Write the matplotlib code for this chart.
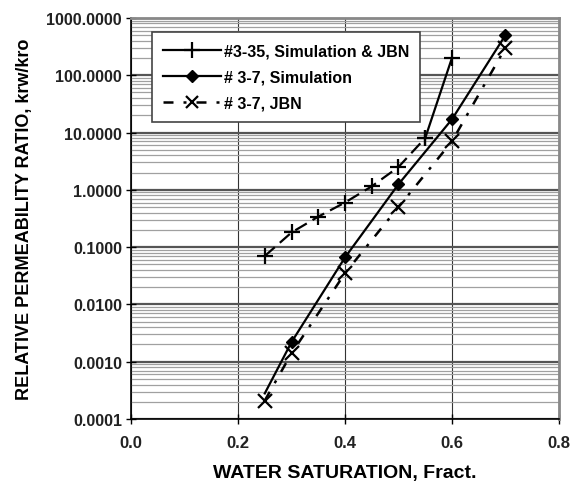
import matplotlib
matplotlib.use("Agg")
import matplotlib.pyplot as plt
from matplotlib.lines import Line2D
from matplotlib.ticker import FixedLocator, LogLocator, FormatStrFormatter

plt.rcParams['font.family'] = ['Liberation Sans', 'DejaVu Sans']

# Data
sw_335 = [0.25, 0.30, 0.35, 0.40, 0.45, 0.50, 0.55, 0.60]
kr_335 = [0.07, 0.18, 0.34, 0.60, 1.15, 2.5, 8.0, 200.0]

sw_37_sim = [0.25, 0.30, 0.40, 0.50, 0.60, 0.70]
kr_37_sim = [0.00028, 0.0022, 0.066, 1.25, 17.0, 500.0]

sw_37_jbn = [0.25, 0.30, 0.40, 0.50, 0.60, 0.70]
kr_37_jbn = [0.00021, 0.0014, 0.035, 0.5, 7.0, 300.0]

x_ticks = [0.0, 0.2, 0.4, 0.6, 0.8]
y_ticks = [0.0001, 0.001, 0.01, 0.1, 1, 10, 100, 1000]

labels = ['#3-35, Simulation & JBN', '# 3-7, Simulation', '# 3-7, JBN']

fig = plt.figure(figsize=(5.75, 4.85), dpi=100)
ax = fig.add_axes([0.228, 0.134, 0.744, 0.827])
ax.set_yscale('log')
ax.set_xlim(0, 0.8)
ax.set_ylim(0.0001, 1000)

# grid: gray minor horizontal lines, darker decade lines, vertical lines at 0.2
ax.yaxis.set_minor_locator(LogLocator(base=10, subs=range(2, 10)))
ax.grid(True, which='minor', axis='y', color='#a0a0a0', linewidth=0.9)
ax.grid(True, which='major', axis='y', color='#555555', linewidth=1.6)
ax.grid(True, which='major', axis='x', color='#333333', linewidth=0.8)
ax.set_axisbelow(True)

# #3-35: dashed through 0.55, solid to the last point
ax.plot(sw_335[:7], kr_335[:7], color='black', linewidth=1.6,
        dashes=(6, 3), marker='+', markersize=11, markeredgewidth=1.6)
ax.plot(sw_335[6:], kr_335[6:], color='black', linewidth=1.6,
        marker='+', markersize=11, markeredgewidth=1.6)

ax.plot(sw_37_sim, kr_37_sim, color='black', linewidth=1.6,
        marker='D', markersize=6.5, markevery=list(range(1, len(sw_37_sim))))

ax.plot(sw_37_jbn, kr_37_jbn, color='black', linewidth=1.8,
        dashes=(4, 4, 1.2, 4), marker='x', markersize=10, markeredgewidth=1.6)

ax.xaxis.set_major_locator(FixedLocator(x_ticks))
ax.xaxis.set_major_formatter(FormatStrFormatter('%.1f'))
ax.yaxis.set_major_locator(FixedLocator(y_ticks))
ax.yaxis.set_major_formatter(FormatStrFormatter('%.4f'))
ax.tick_params(axis='both', which='major', direction='inout', length=7,
               width=1.0, labelsize=11.5, colors='black', labelcolor='#222222')
ax.tick_params(axis='both', which='minor', length=0)
for lbl in ax.get_xticklabels() + ax.get_yticklabels():
    lbl.set_fontweight('bold')
ax.tick_params(axis='x', pad=8, labelsize=12)
ax.tick_params(axis='y', pad=3)

for side in ['left', 'bottom']:
    ax.spines[side].set_color('black')
    ax.spines[side].set_linewidth(1.2)
for side in ['top', 'right']:
    ax.spines[side].set_color('#888888')
    ax.spines[side].set_linewidth(2.0)

ax.set_xlabel('WATER SATURATION, Fract.', fontsize=14, fontweight='bold',
              labelpad=10)
ax.set_ylabel('RELATIVE PERMEABILITY RATIO, krw/kro', fontsize=13,
              fontweight='bold', labelpad=10)

handles = [
    Line2D([], [], color='black', linewidth=1.6, marker='+', markersize=11,
           markeredgewidth=1.6),
    Line2D([], [], color='black', linewidth=1.6, marker='D', markersize=6.5),
    Line2D([], [], color='black', linewidth=1.8, dashes=(4, 4, 1.2, 4),
           marker='x', markersize=9, markeredgewidth=1.6),
]
leg = ax.legend(handles, labels, loc='upper left', bbox_to_anchor=(0.03, 0.985),
                prop={'weight': 'bold', 'size': 11.5}, frameon=True,
                fancybox=False, framealpha=1, edgecolor='#444444',
                handlelength=3.6, handletextpad=0.2, labelspacing=0.7,
                borderpad=0.7)
leg.get_frame().set_linewidth(1.2)

fig.savefig('out.png', dpi=100, facecolor='white')
